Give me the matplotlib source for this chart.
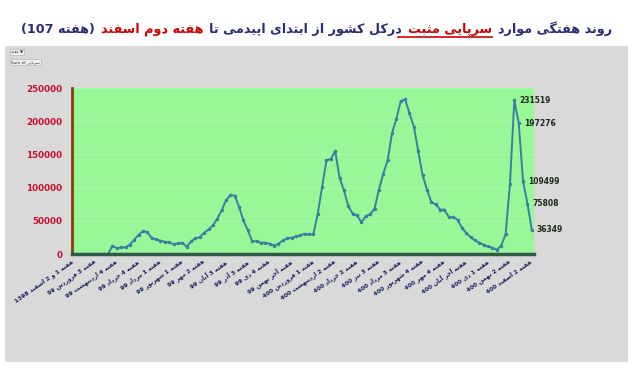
import re
import numpy as np
import matplotlib
matplotlib.use('Agg')
import matplotlib.pyplot as plt
from matplotlib.patches import Rectangle
from matplotlib.lines import Line2D

# weekly outpatient positive cases
cases = [0, 0, 0, 0, 0, 0, 0, 0, 0, 12500,
         8500, 10000, 10000, 14300, 21400, 29000, 34500, 33000, 24000, 22000,
         20000, 18500, 17400, 14800, 15900, 17000, 10900, 19000, 23400, 25400,
         32000, 37000, 43000, 53200, 65700, 80800, 88400, 88000, 70700, 50600,
         35500, 19300, 19000, 17000, 17000, 15400, 12800, 15400, 20400, 23400,
         24500, 26400, 28000, 30500, 29500, 29500, 60700, 101000, 141000, 143000,
         155000, 114500, 96000, 71800, 60700, 58200, 47600, 57100, 59700, 68300,
         97000, 121000, 141000, 181600, 204000, 230000, 233000, 211800, 192000, 155000,
         118600, 97000, 78000, 74600, 66800, 66800, 55600, 55600, 51700, 39600,
         31400, 25400, 20400, 17000, 13900, 11300, 9400, 6300, 12800, 29500,
         106000, 231519, 197276, 109499, 75808, 36349]

week_labels = ['هفته 1 و 2 اسفند 1398', 'هفته 3 فروردین 99', 'هفته 4 اردیبهشت 99',
               'هفته 4 خرداد 99', 'هفته 1 مرداد 99', 'هفته 1 شهریور 99',
               'هفته 2 مهر 99', 'هفته 3 آبان 99', 'هفته 3 آذر 99', 'هفته 4 دی 99',
               'هفته آخر بهمن 99', 'هفته 1 فروردین 400', 'هفته 2 اردیبهشت 400',
               'هفته 2 خرداد 400', 'هفته 3 تیر 400', 'هفته 3 مرداد 400',
               'هفته 4 شهریور 400', 'هفته 4 مهر 400', 'هفته آخر آبان 400',
               'هفته 1 دی 400', 'هفته 2 بهمن 400', 'هفته 2 اسفند 400']
label_step = 5

title_parts = [('روند هفتگی موارد', 'navy', False),
               ('سرپایی مثبت', 'red', True),
               ('درکل کشور از ابتدای اپیدمی تا', 'navy', False),
               ('هفته دوم اسفند', 'red', False),
               ('(هفته 107)', 'navy', False)]

# matplotlib has no arabic shaping, so do it by hand with presentation forms
FORMS = {'ا': (0xFE8D, 2), 'آ': (0xFE81, 2), 'ب': (0xFE8F, 4), 'پ': (0xFB56, 4),
         'ت': (0xFE95, 4), 'ث': (0xFE99, 4), 'ج': (0xFE9D, 4), 'چ': (0xFB7A, 4),
         'ح': (0xFEA1, 4), 'خ': (0xFEA5, 4), 'د': (0xFEA9, 2), 'ذ': (0xFEAB, 2),
         'ر': (0xFEAD, 2), 'ز': (0xFEAF, 2), 'ژ': (0xFB8A, 2), 'س': (0xFEB1, 4),
         'ش': (0xFEB5, 4), 'ف': (0xFED1, 4), 'ق': (0xFED5, 4), 'ک': (0xFB8E, 4),
         'گ': (0xFB92, 4), 'ل': (0xFEDD, 4), 'م': (0xFEE1, 4), 'ن': (0xFEE5, 4),
         'ه': (0xFEE9, 4), 'و': (0xFEED, 2), 'ی': (0xFBFC, 4)}


def shape(s):
    out = []
    for i, c in enumerate(s):
        if c not in FORMS:
            out.append(c)
            continue
        base, n = FORMS[c]
        prev = s[i - 1] if i > 0 else ''
        nxt = s[i + 1] if i + 1 < len(s) else ''
        jp = prev in FORMS and FORMS[prev][1] == 4
        jn = n == 4 and nxt in FORMS
        k = 3 if (jp and jn) else 1 if jp else 2 if jn else 0
        out.append(chr(base + k))
    return ''.join(out)


def rtl(s):
    parts = re.findall(r'[0-9]+|[^0-9]+', shape(s))
    mirror = str.maketrans('()', ')(')
    return ''.join(p if p[0].isdigit() else p[::-1].translate(mirror)
                   for p in parts[::-1])


W, H = 640, 368
NAVY = '#2b2a78'
RED = '#d40000'

fig = plt.figure(figsize=(6.4, 3.68), dpi=100)
fig.patch.set_facecolor('white')
fig.patches.append(Rectangle((5 / W, 1 - 362 / H), 623 / W, 316 / H,
                             transform=fig.transFigure, facecolor='#d9d9d9',
                             edgecolor='none', zorder=-5))

ax = fig.add_axes([72 / W, 1 - 254 / H, 462 / W, 166 / H])
ax.set_facecolor('#98f898')

weeks = np.arange(len(cases))
ax.plot(weeks, cases, color='#3a7ea3', lw=1.4, marker='o', markersize=1.5)
ax.set_xlim(-0.25, 105.5)
ax.set_ylim(0, 250000)

ax.set_yticks(np.arange(0, 250001, 50000))
ax.set_yticklabels([str(v) for v in range(0, 250001, 50000)])
ax.tick_params(axis='y', length=0, pad=7, labelsize=6.3, labelcolor='#c8102e')
for lab in ax.get_yticklabels():
    lab.set_fontweight('bold')
ax.yaxis.grid(True, color='#a8fba8', lw=0.8)
ax.set_axisbelow(True)

ax.set_xticks(weeks[::label_step])
ax.set_xticklabels([rtl(l) for l in week_labels], rotation=35, ha='right',
                   va='center', rotation_mode='anchor')
ax.tick_params(axis='x', length=0, pad=5, labelsize=4.2, labelcolor='#18205e')
for lab in ax.get_xticklabels():
    lab.set_fontweight('bold')

for side in ['top', 'right']:
    ax.spines[side].set_visible(False)
ax.spines['left'].set_color('#8b3a12')
ax.spines['left'].set_linewidth(2)
ax.spines['bottom'].set_color('#2f5a4a')
ax.spines['bottom'].set_linewidth(2.5)

# value labels for the last five weeks
for i in weeks[-5:]:
    ax.annotate(str(cases[i]), (i, cases[i]), xytext=(5, 0),
                textcoords='offset pixels', va='center', ha='left',
                fontsize=5.5, fontweight='bold', color='#1e2a1e')

# small pivot buttons top left
fig.text(11 / W, 1 - 52 / H, rtl('هفته') + ' ▼', fontsize=3, color='#333333',
         va='center', bbox=dict(facecolor='#eeeeee', edgecolor='#aaaaaa', lw=0.4, pad=0.8))
fig.text(11 / W, 1 - 62 / H, 'Sum of ' + rtl('سرپایی'), fontsize=3, color='#333333',
         va='center', bbox=dict(facecolor='#eeeeee', edgecolor='#aaaaaa', lw=0.4, pad=0.8))

# multi coloured RTL title laid out right to left
r = fig.canvas.get_renderer()
gap = 6
fs = 13
tmp = [fig.text(0, 0, rtl(t), fontsize=fs, fontweight='bold') for t, c, u in title_parts]
total = sum(t.get_window_extent(r).width for t in tmp) + gap * (len(tmp) - 1)
for t in tmp:
    t.remove()
fs = fs * 584 / total

x = 612
for text, col, under in title_parts:
    t = fig.text(x / W, 1 - 33 / H, rtl(text), fontsize=fs, fontweight='bold',
                 color=NAVY if col == 'navy' else RED, ha='right', va='baseline')
    bb = t.get_window_extent(r)
    if under:
        fig.add_artist(Line2D([(bb.x0 - 10) / W, bb.x1 / W],
                              [1 - 37 / H, 1 - 37 / H], color=RED, lw=1.2,
                              transform=fig.transFigure))
    x = bb.x0 - gap

fig.savefig('out.png', dpi=100)
